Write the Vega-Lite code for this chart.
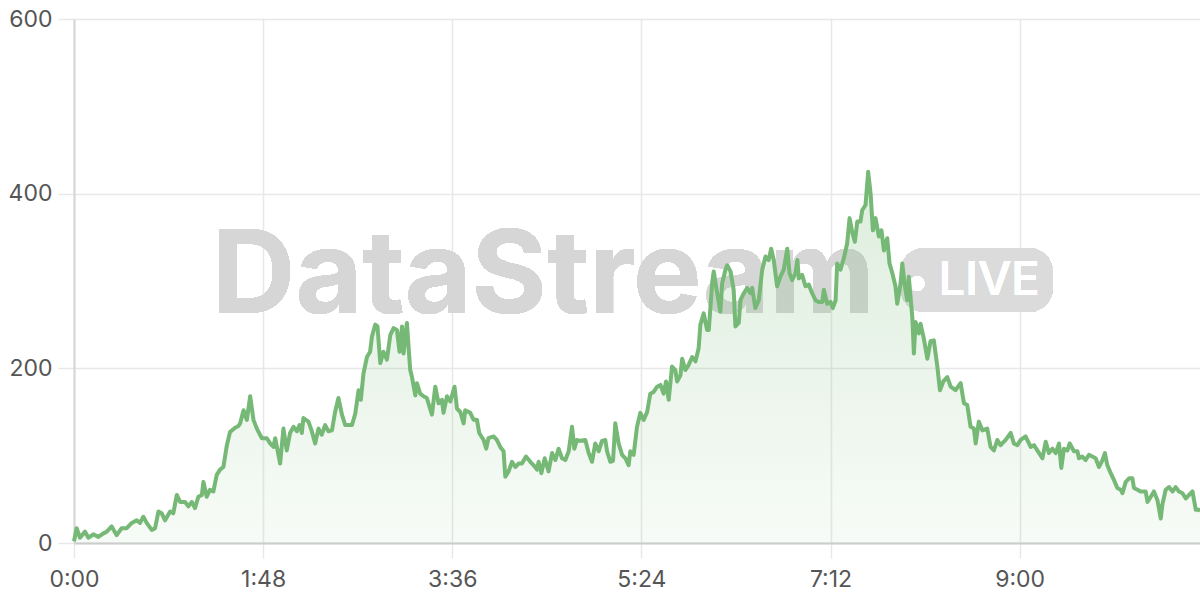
{
  "$schema": "https://vega.github.io/schema/vega-lite/v6.json",
  "width": 1126,
  "height": 524,
  "autosize": {"type": "none"},
  "padding": {"left": 74, "top": 19, "right": 0, "bottom": 57},
  "background": "white",
  "config": {
    "view": {"stroke": null}
  },
  "data": {"values": [
    {"t":0,"v":2},{"t":1.5,"v":17},{"t":3.4,"v":6},{"t":6.3,"v":13},{"t":8.2,"v":6},{"t":11,"v":10},{"t":13.9,"v":7},{"t":16.8,"v":11},{"t":18.7,"v":13},{"t":21.5,"v":19},{"t":24.4,"v":9},{"t":27.2,"v":17},{"t":30.1,"v":17},{"t":33,"v":23},{"t":35.8,"v":26},{"t":37.7,"v":23},{"t":39.6,"v":30},{"t":41.5,"v":23},{"t":44.4,"v":15},{"t":46.3,"v":17},{"t":48.2,"v":36},{"t":50.1,"v":34},{"t":52,"v":26},{"t":54.9,"v":36},{"t":56.7,"v":34},{"t":58.7,"v":55},{"t":60.6,"v":47},{"t":63.4,"v":47},{"t":65.3,"v":42},{"t":67.3,"v":47},{"t":69.1,"v":40},{"t":71,"v":53},{"t":73,"v":55},{"t":73.9,"v":70},{"t":75.8,"v":53},{"t":77.7,"v":61},{"t":79.6,"v":59},{"t":81.5,"v":78},{"t":83.4,"v":84},{"t":85.3,"v":87},{"t":87.3,"v":112},{"t":89.1,"v":127},{"t":92,"v":132},{"t":93.9,"v":134},
    {"t":94.9,"v":137},{"t":96.8,"v":152},{"t":98.7,"v":141},{"t":100.6,"v":168},{"t":102.5,"v":141},{"t":104.4,"v":131},{"t":107.3,"v":120},{"t":110.1,"v":120},{"t":112,"v":114},{"t":113.9,"v":110},{"t":114.9,"v":120},{"t":117.7,"v":91},{"t":119.6,"v":131},{"t":121.5,"v":106},{"t":123.4,"v":126},{"t":125.3,"v":133},{"t":127.3,"v":128},{"t":128.8,"v":135},{"t":130.1,"v":126},{"t":131,"v":143},{"t":133.9,"v":139},{"t":135.8,"v":128},{"t":137.7,"v":114},{"t":139.6,"v":131},{"t":141.5,"v":124},{"t":143.4,"v":135},{"t":145.3,"v":128},{"t":147.3,"v":129},{"t":149.1,"v":150},{"t":151,"v":166},{"t":153,"v":147},{"t":154.9,"v":135},{"t":156.7,"v":135},{"t":158.7,"v":135},{"t":160.6,"v":148},{"t":162.5,"v":175},{"t":163.8,"v":164},{"t":165.3,"v":194},{"t":167.3,"v":213},{"t":169.1,"v":219},{"t":170.1,"v":236},{"t":172,"v":250},{"t":173.3,"v":248},{"t":174.9,"v":206},{"t":176.7,"v":219},{"t":178.7,"v":210},{"t":180.6,"v":238},{"t":182.5,"v":246},{"t":184.4,"v":244},{"t":185.9,"v":219},{"t":187.3,"v":248},{"t":188.2,"v":217},{"t":190.1,"v":252},{"t":192,"v":198},
    {"t":193,"v":190},{"t":194.9,"v":169},{"t":195.8,"v":183},{"t":197.7,"v":171},{"t":199.6,"v":168},{"t":201.5,"v":166},{"t":204.4,"v":147},{"t":206.3,"v":179},{"t":208.2,"v":160},{"t":210.1,"v":164},{"t":211,"v":149},{"t":213,"v":168},{"t":214.9,"v":162},{"t":217.3,"v":179},{"t":218.7,"v":154},{"t":220.6,"v":150},{"t":222.5,"v":137},{"t":223.4,"v":152},{"t":226.3,"v":149},{"t":228.2,"v":141},{"t":230.1,"v":141},{"t":231.4,"v":126},{"t":233.9,"v":118},{"t":235.4,"v":108},{"t":236.7,"v":120},{"t":239.6,"v":122},{"t":241.5,"v":118},{"t":243.4,"v":110},{"t":245.3,"v":105},{"t":246.3,"v":76},{"t":248.2,"v":82},{"t":250.1,"v":93},{"t":252,"v":87},{"t":253.9,"v":91},{"t":255.8,"v":91},{"t":258.1,"v":99},{"t":260.6,"v":93},{"t":262.5,"v":89},{"t":264.4,"v":84},{"t":265.3,"v":93},{"t":266.9,"v":80},{"t":268.8,"v":97},{"t":271,"v":82},{"t":273,"v":103},{"t":274.9,"v":95},{"t":276.7,"v":108},{"t":278.7,"v":97},{"t":280.6,"v":95},{"t":282.5,"v":105},{"t":284.4,"v":133},
    {"t":285.7,"v":108},{"t":287.2,"v":118},{"t":289.1,"v":117},{"t":292,"v":118},{"t":293.9,"v":103},{"t":295.8,"v":93},{"t":297.7,"v":114},{"t":299.6,"v":105},{"t":301.5,"v":117},{"t":303.4,"v":118},{"t":304.4,"v":105},{"t":306.3,"v":93},{"t":307.8,"v":94},{"t":309.1,"v":137},{"t":311,"v":114},{"t":313,"v":101},{"t":314.9,"v":97},{"t":316.7,"v":89},{"t":317.7,"v":105},{"t":319.6,"v":101},{"t":321.5,"v":133},{"t":323.4,"v":149},{"t":325.3,"v":141},{"t":327.3,"v":150},{"t":329.1,"v":171},{"t":331,"v":173},{"t":333,"v":179},{"t":334.9,"v":181},{"t":336.7,"v":171},{"t":338.1,"v":185},{"t":339.6,"v":164},{"t":341.5,"v":202},{"t":343.4,"v":198},{"t":344.4,"v":185},{"t":346.3,"v":192},{"t":347.3,"v":211},{"t":349.1,"v":198},{"t":351,"v":204},{"t":353,"v":213},{"t":354.9,"v":208},{"t":356.7,"v":223},{"t":357.7,"v":250},{"t":359.6,"v":263},{"t":361.5,"v":244},{"t":362.5,"v":244},{"t":364.4,"v":297},{"t":365.3,"v":311},{"t":367.3,"v":286},{"t":369.1,"v":265},{"t":370.1,"v":297},{"t":372,"v":313},{"t":373,"v":318},{"t":374.9,"v":311},{"t":376.7,"v":290},{"t":377.7,"v":248},{"t":379.6,"v":252},
    {"t":380.6,"v":278},{"t":382.5,"v":286},{"t":384.4,"v":292},{"t":386.3,"v":286},{"t":387.3,"v":292},{"t":389.1,"v":269},{"t":391,"v":278},{"t":393,"v":313},{"t":394.9,"v":328},{"t":396.7,"v":324},{"t":398.1,"v":337},{"t":399.6,"v":324},{"t":401.5,"v":294},{"t":403.4,"v":305},{"t":405.3,"v":313},{"t":407.3,"v":337},{"t":408.6,"v":309},{"t":410.1,"v":301},{"t":412,"v":309},{"t":413.1,"v":324},{"t":413.9,"v":303},{"t":415.8,"v":307},{"t":417.7,"v":294},{"t":419.6,"v":296},{"t":421.5,"v":286},{"t":423.4,"v":278},{"t":425.3,"v":276},{"t":427.3,"v":276},{"t":428.2,"v":290},{"t":430.1,"v":274},{"t":432,"v":276},{"t":433.3,"v":269},{"t":434.9,"v":278},{"t":435.8,"v":320},{"t":437.7,"v":313},{"t":439.6,"v":326},{"t":441.5,"v":343},{"t":442.9,"v":372},{"t":444.4,"v":356},{"t":445.9,"v":345},{"t":447.3,"v":368},{"t":449.1,"v":368},{"t":450.1,"v":381},{"t":452,"v":387},{"t":453.5,"v":425},{"t":454.9,"v":400},{"t":456.2,"v":358},{"t":457.7,"v":372},{"t":459.6,"v":351},{"t":461.1,"v":358},{"t":462.5,"v":335},{"t":464.4,"v":349},{"t":465.7,"v":320},{"t":467.3,"v":309},{"t":469.1,"v":294},{"t":470.1,"v":274},{"t":472,"v":297},
    {"t":473,"v":320},{"t":474.3,"v":297},{"t":475.8,"v":278},{"t":476.7,"v":305},{"t":478.7,"v":259},{"t":479.6,"v":217},{"t":480.6,"v":253},{"t":482.5,"v":240},{"t":483.4,"v":251},{"t":485.3,"v":234},{"t":487.3,"v":211},{"t":489.1,"v":231},{"t":491,"v":232},{"t":493,"v":202},{"t":494.5,"v":175},{"t":496.4,"v":185},{"t":498.7,"v":190},{"t":500.6,"v":179},{"t":503.4,"v":175},{"t":506.3,"v":183},{"t":508.2,"v":160},{"t":510.1,"v":158},{"t":512,"v":133},{"t":513.9,"v":131},{"t":514.9,"v":114},{"t":516.7,"v":139},{"t":518.7,"v":129},{"t":521.5,"v":131},{"t":523.4,"v":110},{"t":525.3,"v":106},{"t":527.3,"v":118},{"t":529.1,"v":112},{"t":532,"v":118},{"t":534.9,"v":126},{"t":536.7,"v":114},{"t":538.7,"v":112},{"t":540.6,"v":118},{"t":543.4,"v":122},{"t":546.3,"v":110},{"t":548.2,"v":112},{"t":550.1,"v":106},{"t":553,"v":97},{"t":554.9,"v":116},{"t":556.7,"v":103},{"t":558.7,"v":108},{"t":560.6,"v":103},{"t":562.5,"v":114},{"t":563.8,"v":86},{"t":565.3,"v":108},{"t":567.3,"v":106},
    {"t":568.6,"v":114},{"t":571,"v":105},{"t":573,"v":105},{"t":573.9,"v":97},{"t":575.8,"v":99},{"t":577.7,"v":95},{"t":579.6,"v":101},{"t":581.5,"v":99},{"t":583.4,"v":97},{"t":585.3,"v":87},{"t":587.3,"v":95},{"t":588.7,"v":103},{"t":590.1,"v":89},{"t":592,"v":80},{"t":593.9,"v":72},{"t":595.8,"v":63},{"t":597.7,"v":61},{"t":598.7,"v":57},{"t":600.6,"v":70},{"t":602.5,"v":74},{"t":604.4,"v":74},{"t":605.3,"v":63},{"t":607.3,"v":61},{"t":609.1,"v":59},{"t":612,"v":59},{"t":613,"v":47},{"t":614.9,"v":53},{"t":616.7,"v":59},{"t":618.7,"v":49},{"t":620.6,"v":28},{"t":621.5,"v":44},{"t":623.4,"v":61},{"t":625.3,"v":64},{"t":627.3,"v":59},{"t":629.1,"v":64},{"t":631,"v":59},{"t":633,"v":57},{"t":634.9,"v":51},{"t":636.7,"v":55},{"t":638.7,"v":59},{"t":640.6,"v":38},{"t":642.5,"v":38},{"t":643,"v":36}
  ]},
  "encoding": {
    "x": {"field": "t", "type": "quantitative", "scale": {"domain": [0, 643], "nice": false, "zero": false},
      "axis": {"title": null, "values": [0, 108, 216, 324, 432, 540], "labelExpr": "floor(datum.value/60) + ':' + (datum.value % 60 < 10 ? '0' : '') + (datum.value % 60)", "grid": true, "gridColor": "#e8e8e8", "gridWidth": 1.5, "tickColor": "#e8e8e8", "tickWidth": 1.5, "tickSize": 15, "labelPadding": 10, "labelFlush": false, "labelFont": "Inter", "labelFontSize": 23, "labelColor": "#555555", "domainColor": "#cccccc", "domainWidth": 2}},
    "y": {"field": "v", "type": "quantitative", "scale": {"domain": [0, 600], "nice": false},
      "axis": {"title": null, "values": [0, 200, 400, 600], "grid": true, "gridColor": "#e8e8e8", "gridWidth": 1.5, "tickColor": "#e8e8e8", "tickWidth": 1.5, "tickSize": 16, "labelPadding": 6, "labelFlush": false, "labelFont": "Inter", "labelFontSize": 23, "labelColor": "#555555", "domainColor": "#d6d6d6", "domainWidth": 2}}
  },
  "layer": [
    {
      "mark": {"type": "text", "text": "DataStream", "font": "Inter", "fontWeight": 700, "fontSize": 115, "align": "left", "baseline": "alphabetic"},
      "encoding": {"x": {"datum": 79, "type": "quantitative"}, "y": {"datum": 263, "type": "quantitative"}, "color": {"value": "#d6d6d6"}, "opacity": {"value": 0.85}}
    },
    {
      "mark": {"type": "rect", "cornerRadius": 24},
      "encoding": {"x": {"datum": 472, "type": "quantitative"}, "x2": {"datum": 558.9}, "y": {"datum": 337.8, "type": "quantitative"}, "y2": {"datum": 264.5}, "color": {"value": "#dadada"}, "opacity": {"value": 0.9}}
    },
    {
      "mark": {"type": "point", "filled": true, "size": 220, "shape": "circle"},
      "encoding": {"x": {"datum": 481.5, "type": "quantitative"}, "y": {"datum": 297, "type": "quantitative"}, "color": {"value": "#ffffff"}, "opacity": {"value": 1}}
    },
    {
      "mark": {"type": "text", "text": "LIVE", "font": "Inter", "fontWeight": 500, "fontSize": 47, "align": "left", "baseline": "alphabetic"},
      "encoding": {"x": {"datum": 493.7, "type": "quantitative"}, "y": {"datum": 284, "type": "quantitative"}, "color": {"value": "#ffffff"}}
    },
    {
      "mark": {"type": "area", "interpolate": "linear",
        "fill": {"gradient": "linear", "x1": 0, "y1": 0, "x2": 0, "y2": 1, "stops": [{"offset": 0, "color": "rgba(120,185,120,0.25)"}, {"offset": 1, "color": "rgba(120,185,120,0.06)"}]}}
    },
    {
      "mark": {"type": "line", "color": "#76b876", "strokeWidth": 4, "strokeJoin": "round"}
    }
  ]
}
